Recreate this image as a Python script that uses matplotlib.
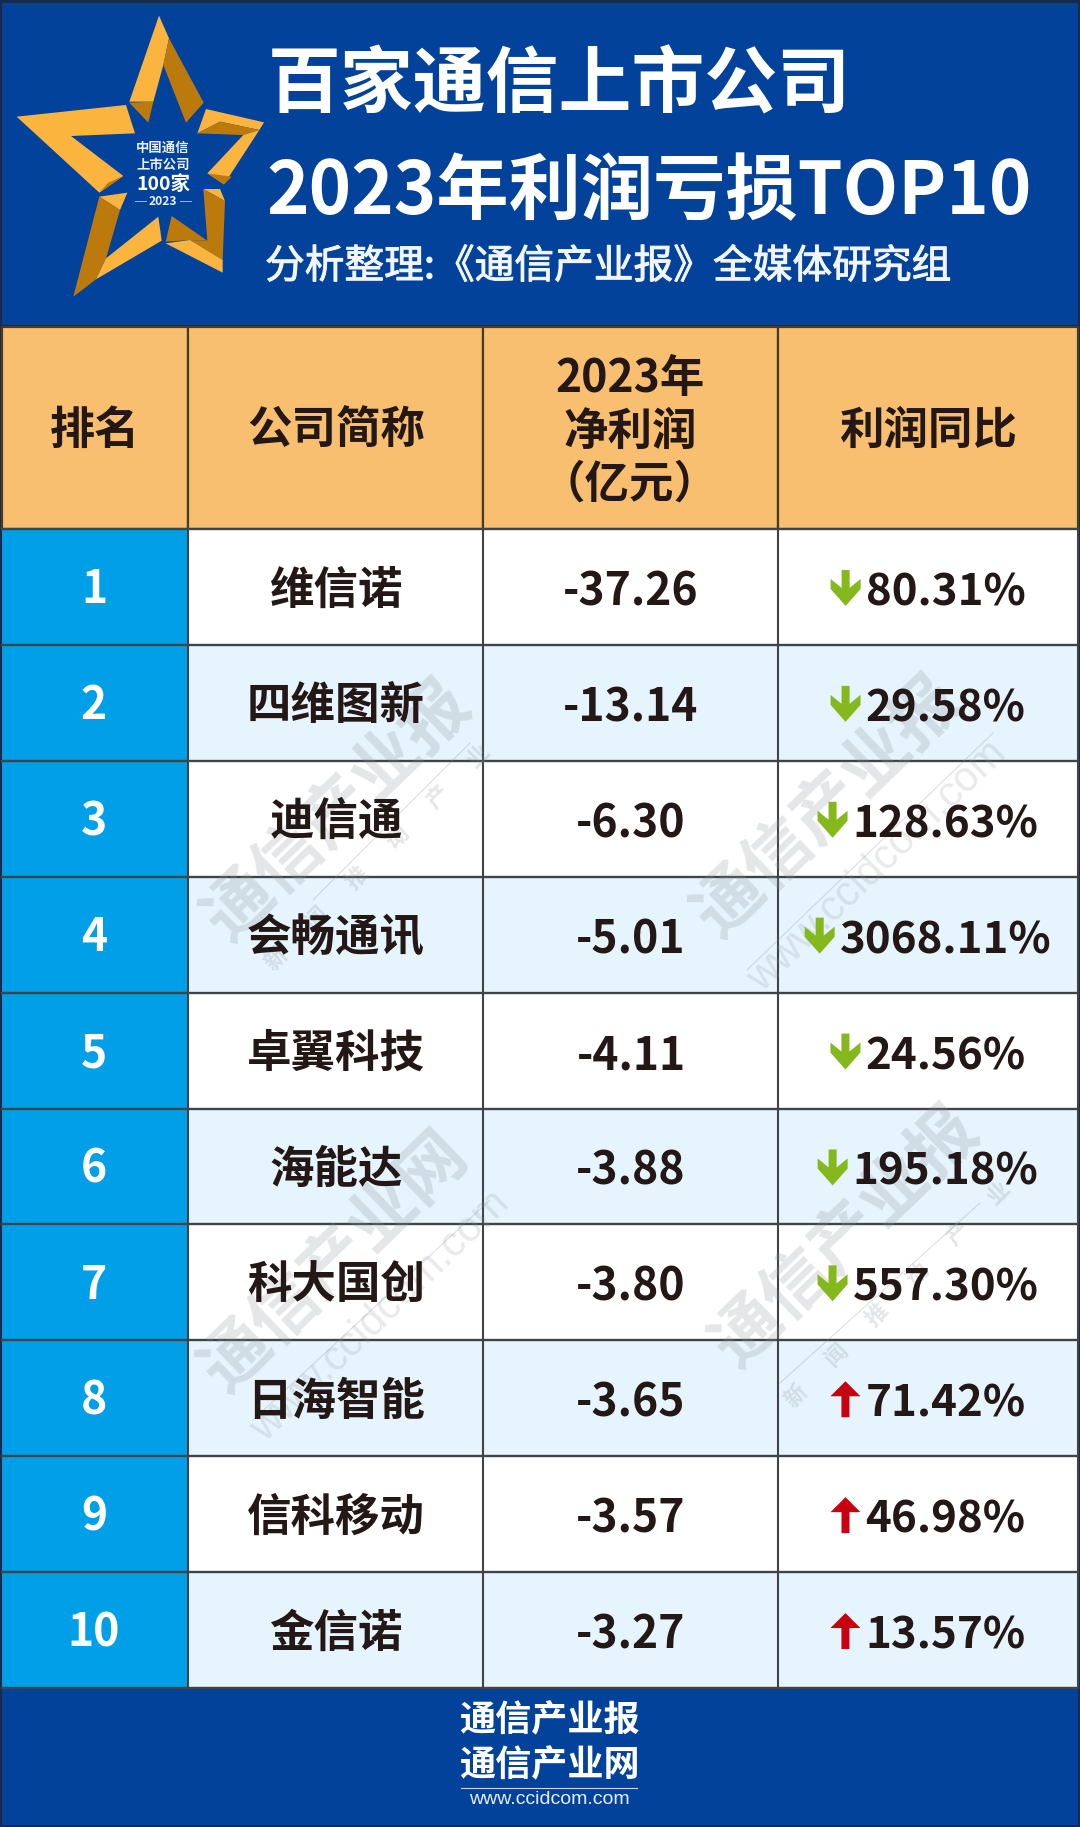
"""2023 telecom listed companies, top 10 loss table (drawn in pixel coordinates)."""
import matplotlib
matplotlib.use("Agg")
import matplotlib.pyplot as plt
import matplotlib.patheffects as pe
from matplotlib.patches import Polygon, Rectangle

plt.rcParams["font.family"] = ["Noto Sans CJK SC", "DejaVu Sans"]

ranks = ["1", "2", "3", "4", "5", "6", "7", "8", "9", "10"]
companies = ["维信诺", "四维图新", "迪信通", "会畅通讯", "卓翼科技",
             "海能达", "科大国创", "日海智能", "信科移动", "金信诺"]
profits = ["-37.26", "-13.14", "-6.30", "-5.01", "-4.11",
           "-3.88", "-3.80", "-3.65", "-3.57", "-3.27"]
changes = ["80.31%", "29.58%", "128.63%", "3068.11%", "24.56%",
           "195.18%", "557.30%", "71.42%", "46.98%", "13.57%"]
directions = ["down"] * 7 + ["up"] * 3

W, H = 1080, 1827
NAVY = "#02429a"
ORANGE = "#f8bf70"
CYAN = "#019fe8"
PALE = "#e6f4fd"
INK = "#231815"
LINE = "#404448"
GOLD = "#fbb53f"
DARKGOLD = "#bd7a0c"
WM = "#8f9599"

col_x = [2, 188, 483, 778, 1078]
head_top, head_bot = 327, 529
row_h = 115.9

fig = plt.figure(figsize=(W / 100, H / 100), dpi=100, facecolor="white")
ax = fig.add_axes([0, 0, 1, 1])
ax.set_xlim(0, W); ax.set_ylim(H, 0); ax.axis("off")


def txt(x, y, s, size, color=INK, weight="bold", ha="center", **kw):
    # CJK text sits a little high with va=center, nudge by font size
    return ax.text(x, y + size * .11, s, fontsize=size, color=color, fontweight=weight,
                   ha=ha, va="center", **kw)


# ---------- bands ----------
ax.add_patch(Rectangle((0, 0), W, H, fc="#1b2a4a", ec="none", zorder=0))
ax.add_patch(Rectangle((2, 3), W - 4, head_top - 5, fc=NAVY, ec="none", zorder=1))
ax.add_patch(Rectangle((2, 1689), W - 4, 136, fc=NAVY, ec="none", zorder=1))

# ---------- table ----------
for i in range(4):
    ax.add_patch(Rectangle((col_x[i], head_top), col_x[i + 1] - col_x[i], head_bot - head_top,
                           fc=ORANGE, ec="#4a3a28", lw=1.6, zorder=2))
for r in range(len(ranks)):
    y0 = head_bot + r * row_h
    ax.add_patch(Rectangle((col_x[0], y0), col_x[1] - col_x[0], row_h, fc=CYAN, ec="none", zorder=2))
    ax.add_patch(Rectangle((col_x[1], y0), col_x[4] - col_x[1], row_h,
                           fc=PALE if r % 2 else "white", ec="none", zorder=2))
for r in range(len(ranks) + 1):
    y0 = head_bot + r * row_h
    ax.plot([col_x[0], col_x[4]], [y0, y0], color=LINE, lw=1.7, zorder=3)
for x in col_x[1:]:
    ax.plot([x, x], [head_bot, head_bot + 10 * row_h], color=LINE, lw=1.5, zorder=3)

# ---------- watermarks: name, thin rule, then either the slogan or the url ----------
SLOGAN = "新       闻       推       动       产       业"
for x, y, s in [(338, 806, "通信产业报"), (828, 802, "通信产业报"),
                (335, 1257, "通信产业网"), (846, 1232, "通信产业报")]:
    txt(x, y, s, 49, color=WM, rotation=44, rotation_mode="anchor", alpha=.24, zorder=4)
for x, y in [(378, 856), (898, 1293)]:
    txt(x, y, SLOGAN, 16, color=WM, rotation=45, rotation_mode="anchor", alpha=.24, zorder=4)
for x, y in [(877, 866), (380, 1316)]:
    ax.text(x, y, "www.ccidcom.com", fontsize=30, color=WM, family="Liberation Sans",
            rotation=44, rotation_mode="anchor", ha="center", va="center", alpha=.2, zorder=4)
for xs, ys in [((313, 470), (900, 743)), ((747, 993), (970, 733)),
               ((253, 490), (1420, 1200)), ((780, 980), (1383, 1203))]:
    ax.plot(xs, ys, color=WM, lw=.8, alpha=.3, zorder=4)

# ---------- star ----------
star = [
    (GOLD, [(477, 47), (507, 115), (490, 195), (460, 305), (388, 305)]),
    (DARKGOLD, [(507, 115), (611, 308), (558, 368), (490, 195)]),
    (DARKGOLD, [(388, 308), (460, 305), (445, 368)]),
    (GOLD, [(50, 350), (378, 315), (405, 400), (213, 408), (370, 528), (298, 578)]),
    (DARKGOLD, [(370, 528), (298, 578), (325, 548)]),
    (GOLD, [(618, 327), (792, 367), (778, 390), (660, 365), (592, 400)]),
    (DARKGOLD, [(660, 365), (778, 390), (730, 405), (592, 400)]),
    (GOLD, [(778, 390), (730, 405), (622, 520), (672, 553)]),
    (DARKGOLD, [(622, 520), (695, 530), (672, 553)]),
    (GOLD, [(610, 567), (660, 567), (675, 603)]),
    (DARKGOLD, [(610, 567), (675, 603), (668, 780), (570, 720), (622, 722)]),
    (DARKGOLD, [(515, 648), (622, 722), (570, 720), (497, 725)]),
    (GOLD, [(497, 730), (570, 720), (668, 780), (668, 818)]),
    (GOLD, [(298, 590), (382, 578), (360, 630)]),
    (DARKGOLD, [(298, 590), (360, 630), (318, 775), (288, 838), (220, 890)]),
    (GOLD, [(475, 650), (485, 722), (288, 838), (318, 775)]),
]
for color, pts in star:
    ax.add_patch(Polygon([(px / 3, py / 3) for px, py in pts], fc=color, ec="none", zorder=3))

txt(163, 147, "中国通信", 9.6, color="#e6eef8", zorder=5)
txt(163, 164, "上市公司", 9.6, color="#e6eef8", zorder=5)
txt(163, 183, "100家", 14, color="white", zorder=5)
txt(163, 201, "2023", 8.8, color="#e6eef8", zorder=5)
ax.plot([135, 146], [201, 201], color="#9db6da", lw=.7, zorder=5)
ax.plot([180, 191], [201, 201], color="#9db6da", lw=.7, zorder=5)

# ---------- title ----------
txt(268, 80, "百家通信上市公司", 52.5, color="white", ha="left", zorder=5)
txt(266, 187, "2023年利润亏损TOP10", 52, color="white", ha="left", zorder=5)
t = txt(265, 264, "分析整理:《通信产业报》全媒体研究组", 28.6, color="#f2f5fb", weight="normal", ha="left", zorder=5)
t.set_path_effects([pe.withStroke(linewidth=.7, foreground="#f2f5fb")])

# ---------- header cells ----------
txt(95, 427, "排名", 32.5, zorder=5)
txt(336, 427, "公司简称", 32, zorder=5)
txt(630, 375, "2023年", 32, zorder=5)
txt(630, 428, "净利润", 32, zorder=5)
txt(630, 481, "（亿元）", 32, zorder=5)
txt(928, 427, "利润同比", 32, zorder=5)

# ---------- rows ----------
fig.canvas.draw()
rend = fig.canvas.get_renderer()
ARROW_W, ARROW_GAP = 30, 5
for r in range(len(ranks)):
    yc = head_bot + (r + .5) * row_h
    txt(94, yc, ranks[r], 32, color="white", zorder=5)
    txt(336, yc, companies[r], 32, zorder=5)
    txt(631, yc + 2, profits[r], 32, zorder=5)

    # arrow and percentage are centred together in the cell
    t = txt(0, yc + 2, changes[r], 31.6, ha="left", zorder=5)
    tw = t.get_window_extent(rend).width
    x0 = 928 - (ARROW_W + ARROW_GAP + tw) / 2
    t.set_x(x0 + ARROW_W + ARROW_GAP)
    cx = x0 + ARROW_W / 2
    if directions[r] == "down":
        color = "#84b81c"
        shape = [(-4, -18), (4, -18), (4, 0), (15, -9), (15, 1), (0, 18),
                 (-15, 1), (-15, -9), (-4, 0)]
    else:
        color = "#c8000f"
        shape = [(-4, 18), (4, 18), (4, -3), (15, -3), (0, -18), (-15, -3), (-4, -3)]
    ax.add_patch(Polygon([(cx + dx, yc + 1 + dy) for dx, dy in shape], fc=color, ec="none", zorder=5))

# ---------- footer logo ----------
txt(549, 1718, "通信产业报", 26, color="white", zorder=5)
txt(549, 1763, "通信产业网", 26, color="white", zorder=5)
ax.plot([461, 637], [1788, 1788], color="#c9d6ec", lw=.8, zorder=5)
ax.text(549, 1799, "www.ccidcom.com", fontsize=14, color="#e8eef8", family="Liberation Sans",
        ha="center", va="center", zorder=5)

fig.savefig("out.png", dpi=100)
